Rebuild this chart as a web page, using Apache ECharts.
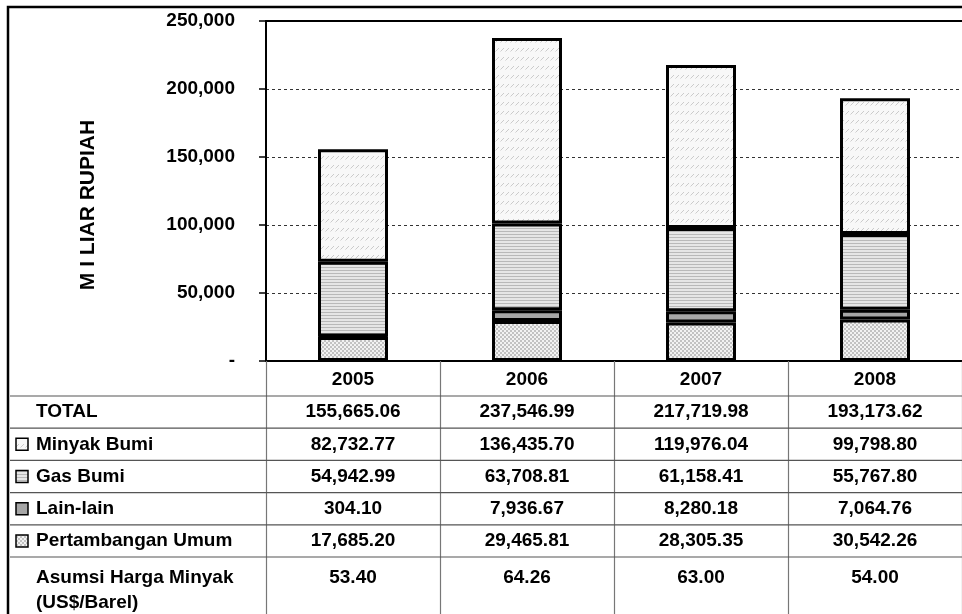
<!DOCTYPE html>
<html>
<head>
<meta charset="utf-8">
<title>Penerimaan SDA 2005-2008</title>
<script src="https://cdn.jsdelivr.net/npm/echarts@6/dist/echarts.min.js"></script>
<style>
  html, body { margin: 0; padding: 0; background: #fff; }
  #chart { width: 962px; height: 614px; }
</style>
</head>
<body>
<div id="chart"></div>
<script>
var years = ['2005', '2006', '2007', '2008'];
var minyakBumi = [82732.77, 136435.70, 119976.04, 99798.80];
var gasBumi = [54942.99, 63708.81, 61158.41, 55767.80];
var lainLain = [304.10, 7936.67, 8280.18, 7064.76];
var pertambangan = [17685.20, 29465.81, 28305.35, 30542.26];
var total = [155665.06, 237546.99, 217719.98, 193173.62];
var hargaMinyak = [53.40, 64.26, 63.00, 54.00];
var rowLabels = ['TOTAL', 'Minyak Bumi', 'Gas Bumi', 'Lain-lain', 'Pertambangan Umum', 'Asumsi Harga Minyak\n(US$/Barel)'];

var FONT = 'bold 19px "Liberation Sans", Arial, sans-serif';
var labelColW = 256;

function fmt(v, d) {
    var parts = v.toFixed(d).split('.');
    parts[0] = parts[0].replace(/\B(?=(\d{3})+(?!\d))/g, ',');
    return parts.join('.');
}

// small canvas tiles for the hatch fills
function makeTile(w, h, draw) {
    var c = document.createElement('canvas');
    c.width = w;
    c.height = h;
    draw(c.getContext('2d'));
    return { image: c, repeat: 'repeat' };
}
var fillMinyak = makeTile(5, 9, function (ctx) {
    ctx.fillStyle = '#f8f8f8';
    ctx.fillRect(0, 0, 5, 9);
    ctx.strokeStyle = '#cbcbcb';
    ctx.lineWidth = 1;
    ctx.beginPath();
    ctx.moveTo(0.5, 6.5);
    ctx.lineTo(4, 3);
    ctx.stroke();
});
var fillGas = makeTile(1, 3, function (ctx) {
    ctx.fillStyle = '#e6e6e6';
    ctx.fillRect(0, 0, 1, 3);
    ctx.fillStyle = '#b9b9b9';
    ctx.fillRect(0, 0, 1, 1);
});
var fillLain = '#a6a6a6';
var fillPert = makeTile(4, 4, function (ctx) {
    ctx.fillStyle = '#f2f2f2';
    ctx.fillRect(0, 0, 4, 4);
    ctx.fillStyle = '#c2c2c2';
    ctx.fillRect(0, 0, 2, 2);
    ctx.fillRect(2, 2, 2, 2);
});
var rowIcons = [null, fillMinyak, fillGas, fillLain, fillPert, null];

var cellRows = [total, minyakBumi, gasBumi, lainLain, pertambangan, hargaMinyak];
var cellData = [];
cellRows.forEach(function (arr, r) {
    arr.forEach(function (v, c) {
        cellData.push([c, r, v]);
    });
});

function barSeries(name, data, fill) {
    return {
        name: name,
        type: 'bar',
        stack: 'sda',
        barWidth: 70,
        data: data,
        itemStyle: { color: fill, borderColor: '#000', borderWidth: 3 }
    };
}

var chart = echarts.init(document.getElementById('chart'));
chart.setOption({
    animation: false,
    grid: [
        { left: 266, right: -8, top: 21, bottom: 253 },
        { left: 266, right: -8, top: 396, bottom: 0 }
    ],
    xAxis: [
        {
            type: 'category', gridIndex: 0, data: years,
            axisLine: { lineStyle: { color: '#000', width: 2 } },
            axisTick: { show: true, length: 35, interval: 0, alignWithLabel: false, lineStyle: { color: '#777', width: 1.2 } },
            axisLabel: { margin: 9, color: '#000', fontWeight: 'bold', fontSize: 19, fontFamily: '"Liberation Sans", Arial, sans-serif' }
        },
        {
            type: 'category', gridIndex: 0, data: years, position: 'top',
            axisLine: { lineStyle: { color: '#000', width: 2 } },
            axisTick: { show: false }, axisLabel: { show: false }
        },
        {
            type: 'category', gridIndex: 1, data: years,
            axisLine: { show: false }, axisTick: { show: false }, axisLabel: { show: false },
            splitLine: { show: true, lineStyle: { color: '#777', width: 1.2 } }
        }
    ],
    yAxis: [
        {
            type: 'value', gridIndex: 0, min: 0, max: 250000, interval: 50000,
            axisLine: { show: true, lineStyle: { color: '#000', width: 2 } },
            axisTick: { show: true, length: 7, lineStyle: { color: '#000', width: 1.5 } },
            axisLabel: {
                margin: 31, color: '#000', fontWeight: 'bold', fontSize: 19,
                fontFamily: '"Liberation Sans", Arial, sans-serif',
                formatter: function (v) { return v === 0 ? '-' : fmt(v, 0); }
            },
            splitLine: { show: true, lineStyle: { color: '#333', width: 1, type: [3, 3] } }
        },
        {
            type: 'value', gridIndex: 1, inverse: true, min: 0, max: 6.77,
            axisLine: { show: false }, axisTick: { show: false }, axisLabel: { show: false },
            splitLine: { show: false }
        }
    ],
    graphic: [
        {
            type: 'rect', z: 100, silent: true,
            shape: { x: 8, y: 7, width: 1000, height: 700 },
            style: { fill: 'none', stroke: '#000', lineWidth: 2.5 }
        },
        {
            type: 'text', x: 88, y: 205, rotation: Math.PI / 2, silent: true,
            style: { text: 'M I LIAR RUPIAH', font: 'bold 21px "Liberation Sans", Arial, sans-serif', fill: '#000', align: 'center', verticalAlign: 'middle' }
        }
    ],
    series: [
        barSeries('Pertambangan Umum', pertambangan, fillPert),
        barSeries('Lain-lain', lainLain, fillLain),
        barSeries('Gas Bumi', gasBumi, fillGas),
        barSeries('Minyak Bumi', minyakBumi, fillMinyak),
        {
            // table values
            type: 'custom', xAxisIndex: 2, yAxisIndex: 1, data: cellData, silent: true,
            renderItem: function (params, api) {
                var c = api.value(0), r = api.value(1), v = api.value(2);
                var p = api.coord([c, r]);
                var h = api.size([0, 1])[1];
                var last = r === cellRows.length - 1;
                return {
                    type: 'text',
                    style: {
                        text: fmt(v, 2), x: p[0], y: last ? p[1] + 21 : p[1] + h / 2,
                        align: 'center', verticalAlign: 'middle', font: FONT, fill: '#000'
                    }
                };
            }
        },
        {
            // row labels, legend keys and row rules
            type: 'custom', xAxisIndex: 2, yAxisIndex: 1, silent: true,
            data: rowLabels.map(function (l, i) { return [0, i]; }),
            renderItem: function (params, api) {
                var i = params.dataIndex;
                var cs = params.coordSys;
                var yTop = api.coord([0, api.value(1)])[1];
                var h = api.size([0, 1])[1];
                var left = cs.x - labelColW;
                var last = i === rowLabels.length - 1;
                var kids = [{
                    type: 'line',
                    shape: { x1: left, y1: yTop, x2: cs.x + cs.width, y2: yTop },
                    style: { stroke: '#555', lineWidth: 1.2 }
                }];
                if (rowIcons[i]) {
                    kids.push({
                        type: 'rect',
                        shape: { x: left + 6, y: yTop + h / 2 - 6, width: 12, height: 12 },
                        style: { fill: rowIcons[i], stroke: '#000', lineWidth: 1.5 }
                    });
                }
                kids.push({
                    type: 'text',
                    style: {
                        text: rowLabels[i], x: left + 26,
                        y: last ? yTop + 8.5 : yTop + h / 2,
                        verticalAlign: last ? 'top' : 'middle', lineHeight: 25,
                        align: 'left', font: FONT, fill: '#000'
                    }
                });
                return { type: 'group', children: kids };
            }
        }
    ]
});
</script>
</body>
</html>
